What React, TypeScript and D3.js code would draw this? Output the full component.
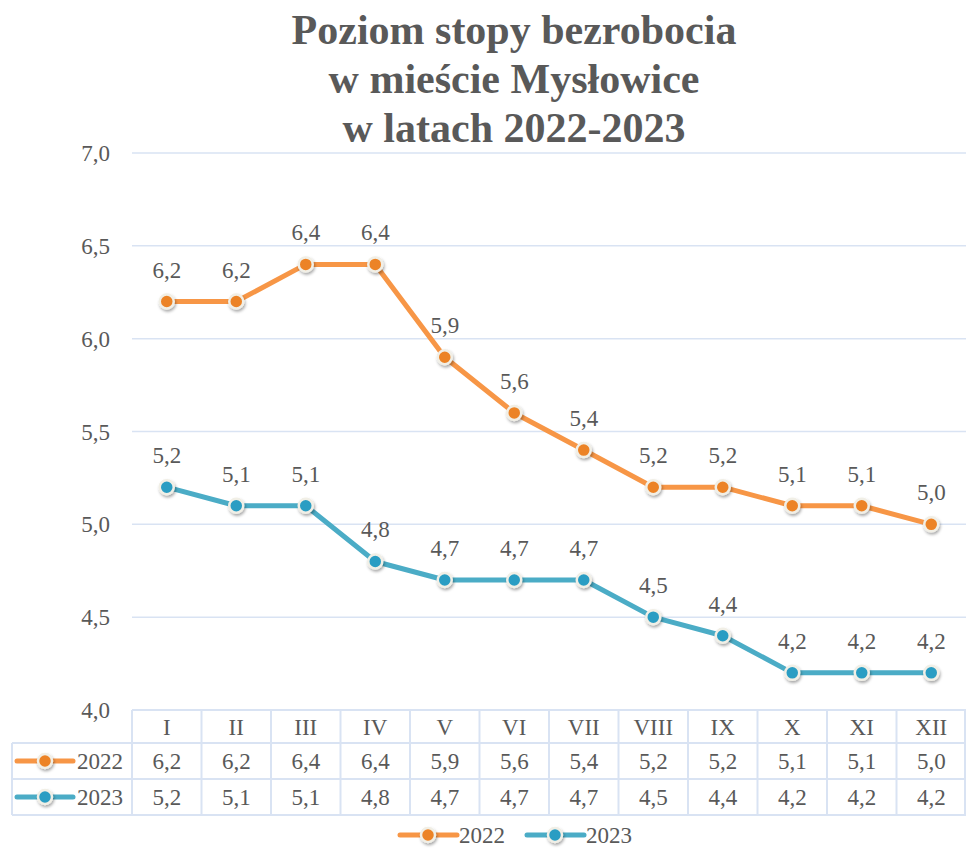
import React from "react";
import * as d3 from "d3";

const months = ["I", "II", "III", "IV", "V", "VI", "VII", "VIII", "IX", "X", "XI", "XII"];
const values2022 = [6.2, 6.2, 6.4, 6.4, 5.9, 5.6, 5.4, 5.2, 5.2, 5.1, 5.1, 5.0];
const values2023 = [5.2, 5.1, 5.1, 4.8, 4.7, 4.7, 4.7, 4.5, 4.4, 4.2, 4.2, 4.2];
const yTicks = [4.0, 4.5, 5.0, 5.5, 6.0, 6.5, 7.0];
const titleLines = ["Poziom stopy bezrobocia", "w mieście Mysłowice", "w latach 2022-2023"];

const series = [
  { name: "2022", values: values2022, line: "#F79646", dot: "#EC8326" },
  { name: "2023", values: values2023, line: "#4BACC6", dot: "#2A9DC3" },
];

const W = 966;
const H = 849;
const plot = { left: 132, right: 966, top: 153, bottom: 710 };
const rowH = [33, 36, 36];
const textColor = "#595959";
const gridColor = "#D9E3F3";
const font = "'Liberation Serif', 'Times New Roman', serif";
const fs = 23;

const fmt = (v: number) => d3.format(".1f")(v).replace(".", ",");

function Marker({ x, y, fill }: { x: number; y: number; fill: string }) {
  return (
    <circle cx={x} cy={y} r={7} fill={fill} stroke="#F1EFE6" strokeWidth={2.5} filter="url(#shadow)" />
  );
}

export default function App() {
  const x = d3.scaleBand<string>().domain(months).range([plot.left, plot.right]);
  const y = d3.scaleLinear().domain([4, 7]).range([plot.bottom, plot.top]);
  const cx = (m: string) => (x(m) as number) + x.bandwidth() / 2;
  const line = d3
    .line<number>()
    .x((_, i) => cx(months[i]))
    .y((d) => y(d));

  const tableTop = plot.bottom;
  const rowTops = [tableTop, tableTop + rowH[0], tableTop + rowH[0] + rowH[1]];
  const tableBottom = rowTops[2] + rowH[2];
  const legendLeft = 12;

  return (
    <svg
      width={W}
      height={H}
      style={{ position: "fixed", top: 0, left: 0, display: "block" }}
      fontFamily={font}
    >
      <defs>
        <filter id="shadow" x="-50%" y="-50%" width="200%" height="200%">
          <feDropShadow dx="1" dy="2" stdDeviation="1.5" floodColor="#000" floodOpacity="0.35" />
        </filter>
      </defs>
      <rect width={W} height={H} fill="#fff" />

      {/* title */}
      <text textAnchor="middle" fontWeight="bold" fontSize={42} fill={textColor}>
        {titleLines.map((t, i) => (
          <tspan key={t} x={514} y={44 + i * 49}>
            {t}
          </tspan>
        ))}
      </text>

      {/* grid and y axis */}
      {yTicks.map((t) => (
        <g key={t}>
          {t > 4 && (
            <line x1={plot.left} x2={plot.right} y1={y(t)} y2={y(t)} stroke={gridColor} strokeWidth={1.5} />
          )}
          <text x={110} y={y(t)} dy="0.35em" textAnchor="end" fontSize={fs} fill={textColor}>
            {fmt(t)}
          </text>
        </g>
      ))}

      {/* data table */}
      <g stroke={gridColor} strokeWidth={2} fill="none">
        <line x1={plot.left} x2={plot.right} y1={tableTop} y2={tableTop} />
        <line x1={legendLeft} x2={plot.right} y1={rowTops[1]} y2={rowTops[1]} />
        <line x1={legendLeft} x2={plot.right} y1={rowTops[2]} y2={rowTops[2]} />
        <line x1={legendLeft} x2={plot.right} y1={tableBottom} y2={tableBottom} />
        <line x1={legendLeft} x2={legendLeft} y1={rowTops[1]} y2={tableBottom} />
        {months.map((m) => (
          <line key={m} x1={x(m)} x2={x(m)} y1={tableTop} y2={tableBottom} />
        ))}
        <line x1={plot.right - 1} x2={plot.right - 1} y1={tableTop} y2={tableBottom} />
      </g>
      {months.map((m) => (
        <text key={m} x={cx(m)} y={tableTop + rowH[0] / 2} dy="0.35em" textAnchor="middle" fontSize={fs} fill={textColor}>
          {m}
        </text>
      ))}
      {series.map((s, si) => {
        const rowMid = rowTops[si + 1] + rowH[si + 1] / 2;
        return (
          <g key={s.name}>
            <line x1={17} x2={73} y1={rowMid} y2={rowMid} stroke={s.line} strokeWidth={5} strokeLinecap="round" />
            <Marker x={45} y={rowMid} fill={s.dot} />
            <text x={77} y={rowMid} dy="0.35em" fontSize={fs} fill={textColor}>
              {s.name}
            </text>
            {s.values.map((v, i) => (
              <text key={i} x={cx(months[i])} y={rowMid} dy="0.35em" textAnchor="middle" fontSize={fs} fill={textColor}>
                {fmt(v)}
              </text>
            ))}
          </g>
        );
      })}

      {/* lines */}
      {series.map((s) => (
        <g key={s.name}>
          <path d={line(s.values) || ""} fill="none" stroke={s.line} strokeWidth={5} strokeLinejoin="round" />
          {s.values.map((v, i) => (
            <g key={i}>
              <Marker x={cx(months[i])} y={y(v)} fill={s.dot} />
              <text x={cx(months[i])} y={y(v) - 24} textAnchor="middle" fontSize={fs} fill={textColor}>
                {fmt(v)}
              </text>
            </g>
          ))}
        </g>
      ))}

      {/* legend */}
      {series.map((s, i) => {
        const lx = 400 + i * 127;
        const ly = 835;
        return (
          <g key={s.name}>
            <line x1={lx} x2={lx + 57} y1={ly} y2={ly} stroke={s.line} strokeWidth={5} strokeLinecap="round" />
            <Marker x={lx + 28} y={ly} fill={s.dot} />
            <text x={lx + 59} y={ly} dy="0.35em" fontSize={fs} fill={textColor}>
              {s.name}
            </text>
          </g>
        );
      })}
    </svg>
  );
}
